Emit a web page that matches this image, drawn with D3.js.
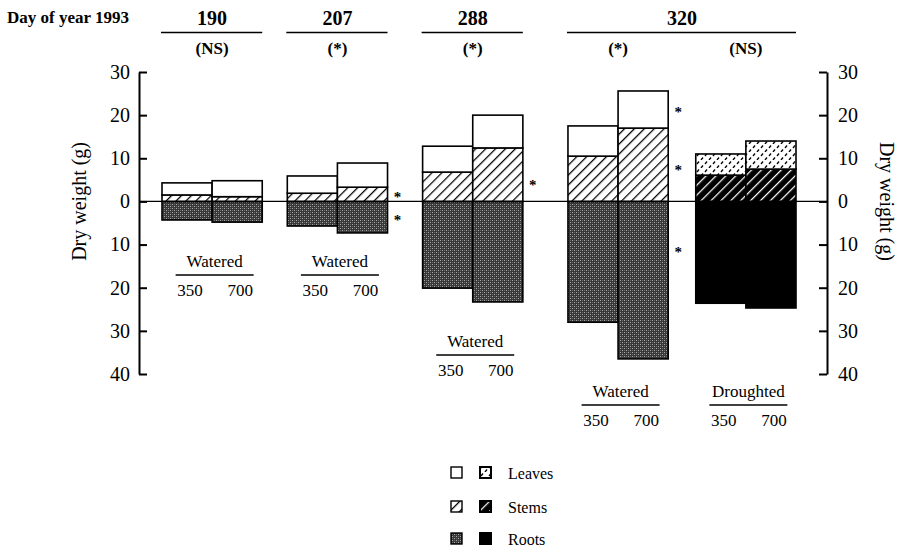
<!DOCTYPE html>
<html>
<head>
<meta charset="utf-8">
<script src="https://cdn.jsdelivr.net/npm/d3@7/dist/d3.min.js"></script>
<style>
  body { margin: 0; background: #fff; }
</style>
</head>
<body>
<div id="chart"></div>
<script>
//data
var days = ["190", "207", "288", "320", "320"];
var treatments = ["Watered", "Watered", "Watered", "Watered", "Droughted"];
var significance = ["(NS)", "(*)", "(*)", "(*)", "(NS)"];
var co2 = ["350", "700"];
var leaves = [[2.8, 3.7], [4.0, 5.6], [6.0, 7.6], [7.0, 8.6], [4.9, 6.5]];
var stems = [[1.5, 1.1], [1.9, 3.3], [6.8, 12.4], [10.5, 17.0], [6.1, 7.5]];
var roots = [[4.3, 4.8], [5.7, 7.3], [20.1, 23.3], [28.0, 36.5], [23.6, 24.7]];
var yTicks = [-40, -30, -20, -10, 0, 10, 20, 30];
var starGroup = [1, 1, 2, 3, 3, 3];
var starLevel = [1.95, -3.4, 4.7, 21.7, 8.2, -10.8];
var legendLabels = ["Leaves", "Stems", "Roots"];

//layout
var width = 909, height = 547;
var serif = "Liberation Serif";
var gapUnits = [0.5, 0.7, 0.9, 0.55]; // gaps between bar pairs, in bar widths
var captionLineY = [275, 275, 355, 405, 405];
var axisLeftX = 139, axisRightX = 827;

var pairStart = [];
var u = 0;
days.forEach(function(d, i) {
  pairStart.push(u);
  u += 2 + (i < gapUnits.length ? gapUnits[i] : 0);
});
var totalUnits = u;

var xScale = d3.scaleLinear().domain([0, totalUnits]).range([162, 796]);
var yScale = d3.scaleLinear().domain([-40, 30]).range([374, 72]);

var svg = d3.select("#chart").append("svg")
  .attr("width", width)
  .attr("height", height)
  .attr("font-family", serif);

function addText(x, y, size, str, anchor, bold) {
  return svg.append("text")
    .attr("x", x).attr("y", y)
    .attr("font-family", serif)
    .attr("font-size", size)
    .attr("font-weight", bold ? "bold" : "normal")
    .attr("text-anchor", anchor || "start")
    .attr("fill", "#000")
    .text(str);
}

//patterns
var defs = svg.append("defs");

function hatch(id, bg, fg) {
  var p = defs.append("pattern")
    .attr("id", id)
    .attr("patternUnits", "userSpaceOnUse")
    .attr("width", 7).attr("height", 7)
    .attr("patternTransform", "rotate(45)");
  p.append("rect").attr("width", 7).attr("height", 7).attr("fill", bg);
  p.append("line").attr("x1", 0.6).attr("y1", 0).attr("x2", 0.6).attr("y2", 7)
    .attr("stroke", fg).attr("stroke-width", 1.3);
}
hatch("hatch", "#fff", "#000");
hatch("hatchBlack", "#000", "#fff");

var st = defs.append("pattern")
  .attr("id", "stipple")
  .attr("patternUnits", "userSpaceOnUse")
  .attr("width", 4).attr("height", 4);
st.append("rect").attr("width", 4).attr("height", 4).attr("fill", "#383838");
[[0, 0, "#a8a8a8"], [2, 2, "#a8a8a8"], [2, 0, "#6a6a6a"], [0, 2, "#6a6a6a"]].forEach(function(c) {
  st.append("rect").attr("x", c[0]).attr("y", c[1]).attr("width", 1).attr("height", 1).attr("fill", c[2]);
});

var ds = defs.append("pattern")
  .attr("id", "dashes")
  .attr("patternUnits", "userSpaceOnUse")
  .attr("width", 8).attr("height", 8);
ds.append("rect").attr("width", 8).attr("height", 8).attr("fill", "#fff");
[[1, 4, 3, 1.5], [5, 8, 7, 5.5]].forEach(function(c) {
  ds.append("line").attr("x1", c[0]).attr("y1", c[1]).attr("x2", c[2]).attr("y2", c[3])
    .attr("stroke", "#000").attr("stroke-width", 1.3);
});

var fills = {
  Watered: { leaves: "#fff", stems: "url(#hatch)", roots: "url(#stipple)" },
  Droughted: { leaves: "url(#dashes)", stems: "url(#hatchBlack)", roots: "#000" }
};

//bars
var segs = [];
days.forEach(function(d, i) {
  co2.forEach(function(c, j) {
    var f = fills[treatments[i]];
    var x0 = xScale(pairStart[i] + j), x1 = xScale(pairStart[i] + j + 1);
    segs.push({ x0: x0, x1: x1, lo: -roots[i][j], hi: 0, fill: f.roots });
    segs.push({ x0: x0, x1: x1, lo: 0, hi: stems[i][j], fill: f.stems });
    segs.push({ x0: x0, x1: x1, lo: stems[i][j], hi: stems[i][j] + leaves[i][j], fill: f.leaves });
  });
});

svg.append("g").selectAll("rect")
  .data(segs)
.enter().append("rect")
  .attr("x", function(d) { return d.x0; })
  .attr("width", function(d) { return d.x1 - d.x0; })
  .attr("y", function(d) { return yScale(d.hi); })
  .attr("height", function(d) { return yScale(d.lo) - yScale(d.hi); })
  .attr("fill", function(d) { return d.fill; })
  .attr("stroke", "#000")
  .attr("stroke-width", 1.6);

//zero line
svg.append("line")
  .attr("x1", axisLeftX).attr("x2", axisRightX)
  .attr("y1", yScale(0)).attr("y2", yScale(0))
  .attr("stroke", "#000").attr("stroke-width", 1.3);

//axes
function styleAxis(g) {
  g.attr("font-family", serif).attr("font-size", 20);
  g.selectAll("path, line").attr("stroke", "#000").attr("stroke-width", 2);
  g.selectAll("text").attr("fill", "#000");
}
svg.append("g")
  .attr("transform", "translate(" + axisLeftX + ",0)")
  .call(d3.axisLeft(yScale).tickValues(yTicks).tickFormat(function(d) { return Math.abs(d); })
    .tickSizeInner(-8).tickSizeOuter(0).tickPadding(9))
  .call(styleAxis);
svg.append("g")
  .attr("transform", "translate(" + axisRightX + ",0)")
  .call(d3.axisRight(yScale).tickValues(yTicks).tickFormat(function(d) { return Math.abs(d); })
    .tickSizeInner(-8).tickSizeOuter(0).tickPadding(11))
  .call(styleAxis);

addText(0, 0, 20, "Dry weight (g)", "middle")
  .attr("transform", "translate(79," + yScale(0) + ") rotate(-90)")
  .attr("dy", "0.35em");
addText(0, 0, 20, "Dry weight (g)", "middle")
  .attr("transform", "translate(887," + yScale(0) + ") rotate(90)")
  .attr("dy", "0.35em");

//header
addText(7, 23, 17, "Day of year 1993", "start", true);

var dayNames = Array.from(new Set(days));
dayNames.forEach(function(name) {
  var idx = days.map(function(d, i) { return d === name ? i : -1; }).filter(function(i) { return i >= 0; });
  var left = xScale(pairStart[idx[0]]);
  var right = xScale(pairStart[idx[idx.length - 1]] + 2);
  addText((left + right) / 2, 25, 20, name, "middle", true);
  svg.append("line")
    .attr("x1", left - 1).attr("x2", right)
    .attr("y1", 32.5).attr("y2", 32.5)
    .attr("stroke", "#000").attr("stroke-width", 1.6);
});

//significance and captions
days.forEach(function(d, i) {
  var cx = xScale(pairStart[i] + 1);
  addText(cx, 54, 17, significance[i], "middle", true);

  var ly = captionLineY[i];
  addText(cx + 2.5, ly - 8, 17, treatments[i], "middle");
  svg.append("line")
    .attr("x1", cx + 2.5 - 39).attr("x2", cx + 2.5 + 39)
    .attr("y1", ly).attr("y2", ly)
    .attr("stroke", "#000").attr("stroke-width", 1.6);
  co2.forEach(function(c, j) {
    addText(xScale(pairStart[i] + j + 0.5) + 3, ly + 21, 17, c, "middle");
  });
});

//asterisks
starGroup.forEach(function(g, k) {
  addText(xScale(pairStart[g] + 2) + 10, yScale(starLevel[k]), 15, "*", "middle", true)
    .attr("dy", "0.6em");
});

//legend
var legendY = [473, 507, 539];
var legendFill = ["leaves", "stems", "roots"];
legendLabels.forEach(function(lab, k) {
  var y = legendY[k];
  svg.append("rect")
    .attr("x", 451).attr("y", y - 6).attr("width", 11).attr("height", 11)
    .attr("fill", fills.Watered[legendFill[k]])
    .attr("stroke", "#000").attr("stroke-width", 1.4);
  svg.append("rect")
    .attr("x", 480).attr("y", y - 6).attr("width", 11).attr("height", 11)
    .attr("fill", fills.Droughted[legendFill[k]])
    .attr("stroke", "#000").attr("stroke-width", 2);
  addText(508, y, 16, lab).attr("dy", "0.35em");
});
</script>
</body>
</html>
